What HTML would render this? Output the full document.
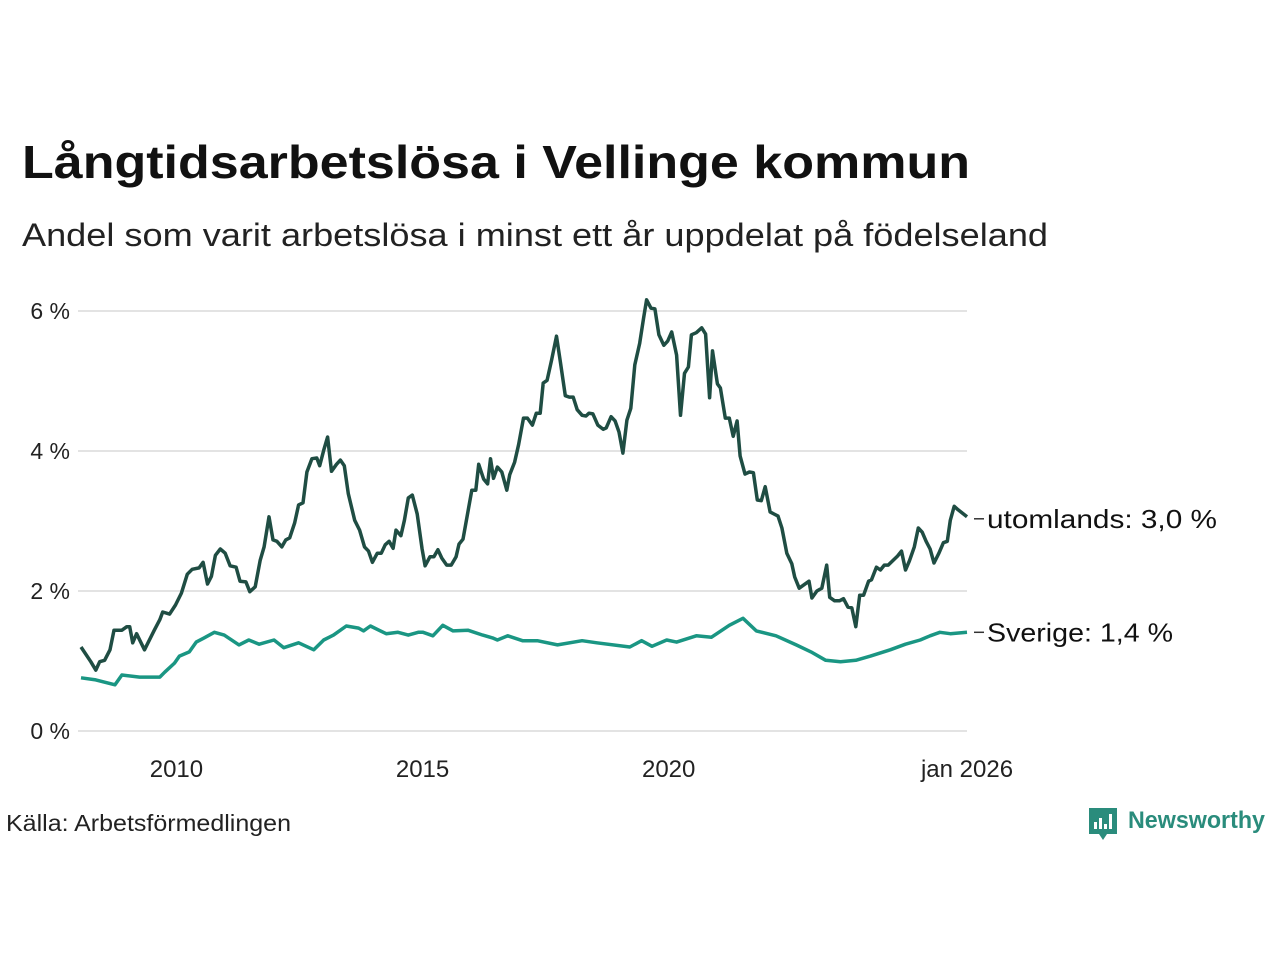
<!DOCTYPE html>
<html><head><meta charset="utf-8"><style>
html,body{margin:0;padding:0;background:#fff;}
svg text{font-family:"Liberation Sans","DejaVu Sans",sans-serif;}
</style></head><body>
<svg id="chart" width="1280" height="960" viewBox="0 0 1280 960">
<text x="22" y="178" font-size="46" font-weight="bold" fill="#111" textLength="948" lengthAdjust="spacingAndGlyphs">Långtidsarbetslösa i Vellinge kommun</text>
<text x="22" y="246" font-size="32" fill="#222" textLength="1026" lengthAdjust="spacingAndGlyphs">Andel som varit arbetslösa i minst ett år uppdelat på födelseland</text>
<g id="grid"></g><g id="yticks"></g><g id="xticks"></g><g id="lines"></g><g id="labels"></g>
<text x="6" y="831" font-size="23" fill="#222" textLength="285" lengthAdjust="spacingAndGlyphs">Källa: Arbetsförmedlingen</text>
<g>
<path d="M1089 808 h28 v26 h-10 l-4 6 l-4 -6 h-10 z" fill="#2a8c7c"/>
<rect x="1094" y="822" width="3" height="7" fill="#fff"/><rect x="1099" y="818" width="3" height="11" fill="#fff"/><rect x="1104" y="824" width="3" height="5" fill="#fff"/><rect x="1109" y="814" width="3" height="15" fill="#fff"/>
<text x="1128" y="828" font-size="24" font-weight="bold" fill="#2a8c7c" textLength="137" lengthAdjust="spacingAndGlyphs">Newsworthy</text>
</g>
</svg>
<script>
const yTicks=[0,2,4,6];
const yTickLabels=["0 %","2 %","4 %","6 %"];
const xTicks=[2010,2015,2020,2026];
const xTickLabels=["2010","2015","2020","jan 2026"];
const seriesNames=["utomlands","Sverige"];
const endLabels=["utomlands: 3,0 %","Sverige: 1,4 %"];
const utomlandsDates=[2008.00,2008.20,2008.30,2008.38,2008.48,2008.59,2008.67,2008.83,2008.93,2008.99,2009.05,2009.13,2009.29,2009.49,2009.60,2009.66,2009.80,2009.92,2010.04,2010.16,2010.26,2010.40,2010.48,2010.57,2010.65,2010.73,2010.83,2010.93,2011.03,2011.15,2011.23,2011.35,2011.43,2011.54,2011.64,2011.72,2011.82,2011.90,2011.98,2012.08,2012.16,2012.24,2012.34,2012.42,2012.51,2012.59,2012.69,2012.79,2012.85,2012.93,2013.01,2013.09,2013.19,2013.27,2013.35,2013.43,2013.56,2013.66,2013.76,2013.84,2013.92,2014.02,2014.10,2014.18,2014.26,2014.34,2014.40,2014.50,2014.57,2014.65,2014.73,2014.83,2014.93,2014.99,2015.09,2015.17,2015.25,2015.33,2015.43,2015.52,2015.62,2015.68,2015.76,2015.86,2015.94,2016.02,2016.08,2016.18,2016.26,2016.32,2016.38,2016.46,2016.55,2016.65,2016.71,2016.81,2016.89,2016.99,2017.07,2017.17,2017.25,2017.33,2017.39,2017.47,2017.56,2017.66,2017.74,2017.84,2017.92,2018.00,2018.08,2018.18,2018.26,2018.32,2018.40,2018.50,2018.61,2018.67,2018.77,2018.85,2018.93,2019.01,2019.09,2019.17,2019.25,2019.35,2019.43,2019.49,2019.58,2019.66,2019.74,2019.84,2019.92,2020.00,2020.10,2020.18,2020.26,2020.34,2020.40,2020.50,2020.61,2020.69,2020.77,2020.83,2020.93,2020.99,2021.09,2021.17,2021.25,2021.33,2021.39,2021.49,2021.58,2021.66,2021.74,2021.82,2021.90,2022.00,2022.08,2022.16,2022.24,2022.34,2022.44,2022.50,2022.59,2022.69,2022.79,2022.85,2022.95,2023.05,2023.15,2023.21,2023.31,2023.41,2023.49,2023.58,2023.66,2023.74,2023.82,2023.90,2024.00,2024.06,2024.16,2024.24,2024.32,2024.40,2024.50,2024.59,2024.67,2024.75,2024.83,2024.93,2025.01,2025.09,2025.17,2025.25,2025.33,2025.43,2025.52,2025.60,2025.66,2025.74,2025.82,2026.00];
const utomlands=[1.20,0.99,0.87,0.99,1.01,1.16,1.44,1.44,1.49,1.49,1.26,1.39,1.16,1.44,1.59,1.70,1.67,1.80,1.97,2.24,2.31,2.33,2.41,2.10,2.21,2.51,2.60,2.54,2.36,2.34,2.14,2.13,1.99,2.06,2.44,2.63,3.06,2.73,2.71,2.63,2.73,2.76,2.97,3.23,3.26,3.70,3.89,3.90,3.79,4.01,4.20,3.71,3.81,3.87,3.79,3.39,3.01,2.87,2.63,2.57,2.41,2.54,2.54,2.66,2.71,2.61,2.87,2.79,3.01,3.33,3.37,3.10,2.60,2.36,2.49,2.49,2.59,2.47,2.37,2.37,2.49,2.67,2.74,3.13,3.44,3.44,3.81,3.60,3.53,3.89,3.61,3.77,3.70,3.44,3.66,3.84,4.09,4.47,4.47,4.37,4.54,4.54,4.97,5.01,5.30,5.64,5.27,4.79,4.77,4.77,4.59,4.51,4.50,4.54,4.53,4.37,4.31,4.33,4.49,4.43,4.27,3.97,4.44,4.61,5.23,5.54,5.90,6.16,6.04,6.03,5.66,5.51,5.57,5.70,5.37,4.51,5.11,5.20,5.66,5.69,5.76,5.67,4.76,5.43,4.96,4.90,4.47,4.47,4.21,4.43,3.93,3.67,3.70,3.69,3.30,3.29,3.49,3.13,3.10,3.07,2.90,2.54,2.39,2.20,2.04,2.09,2.14,1.90,2.00,2.04,2.37,1.91,1.86,1.86,1.89,1.77,1.76,1.49,1.94,1.94,2.14,2.16,2.34,2.30,2.37,2.37,2.44,2.50,2.57,2.30,2.43,2.63,2.90,2.84,2.71,2.60,2.40,2.54,2.69,2.71,3.01,3.21,3.16,3.06];
const sverigeDates=[2008.0,2008.3,2008.69,2008.83,2009.19,2009.6,2009.7,2009.9,2010.0,2010.2,2010.34,2010.5,2010.71,2010.91,2011.21,2011.41,2011.62,2011.92,2012.12,2012.42,2012.73,2012.93,2013.13,2013.39,2013.64,2013.74,2013.88,2014.2,2014.44,2014.65,2014.85,2014.95,2015.15,2015.35,2015.56,2015.86,2016.16,2016.36,2016.46,2016.67,2016.97,2017.27,2017.68,2018.18,2018.48,2019.15,2019.39,2019.6,2019.9,2020.1,2020.5,2020.81,2021.17,2021.45,2021.72,2022.12,2022.53,2022.83,2023.13,2023.43,2023.74,2024.04,2024.44,2024.75,2025.05,2025.25,2025.45,2025.66,2026.0];
const sverige=[0.76,0.73,0.66,0.80,0.77,0.77,0.84,0.97,1.07,1.13,1.27,1.33,1.41,1.37,1.23,1.30,1.24,1.30,1.19,1.26,1.16,1.30,1.37,1.50,1.47,1.43,1.50,1.39,1.41,1.37,1.41,1.41,1.36,1.51,1.43,1.44,1.37,1.33,1.30,1.36,1.29,1.29,1.23,1.29,1.26,1.20,1.29,1.21,1.30,1.27,1.36,1.34,1.51,1.61,1.43,1.36,1.23,1.13,1.01,0.99,1.01,1.07,1.16,1.24,1.30,1.36,1.41,1.39,1.41];

const X0=78,X1=967,Y0=731,Y6=311;
const startYear=2008,endYear=2026,PX0=81,PX1=967;
function xs(yr){return PX0+(yr-startYear)/(endYear-startYear)*(PX1-PX0);}
function ys(v){return Y0-(v/6)*(Y0-Y6);}
const NS="http://www.w3.org/2000/svg";
function mk(tag,parent,attrs){const e=document.createElementNS(NS,tag);for(const k in attrs)e.setAttribute(k,attrs[k]);document.getElementById(parent).appendChild(e);return e;}

yTicks.forEach((t,i)=>{
  const g=mk('line','grid',{x1:X0,x2:X1,y1:ys(t),y2:ys(t),stroke:'#e3e3e3','stroke-width':2});
  
  
  const tx=mk('text','yticks',{x:70,y:ys(t)+8,'font-size':23,fill:'#222','text-anchor':'end'});
  tx.textContent=yTickLabels[i];
  
  
});
xTicks.forEach((t,i)=>{
  const tx=mk('text','xticks',{x:xs(t)-(i<3?3:0),y:777,'font-size':24,fill:'#222','text-anchor':'middle'});
  tx.textContent=xTickLabels[i];
  
  
});
const dPts=utomlands.map((v,i)=>xs(utomlandsDates[i]).toFixed(1)+','+ys(v).toFixed(1)).join(' ');
const l1=mk('polyline','lines',{points:dPts,fill:'none',stroke:'#1f4d43','stroke-width':3.5,'stroke-linejoin':'round'});


const sPts=sverige.map((v,i)=>xs(sverigeDates[i]).toFixed(1)+','+ys(v).toFixed(1)).join(' ');
const l2=mk('polyline','lines',{points:sPts,fill:'none',stroke:'#1a9683','stroke-width':3.5,'stroke-linejoin':'round'});


const lastVals=[utomlands[utomlands.length-1],sverige[sverige.length-1]];
const labelWidths=[230,186];
lastVals.forEach((v,i)=>{
  const y=ys(v)+(i===0?2:0);
  const c=mk('line','labels',{x1:974,x2:984,y1:y,y2:y,stroke:'#333','stroke-width':1.5});
  
  
  const t=mk('text','labels',{x:987,y:y+9,'font-size':26,fill:'#111',textLength:labelWidths[i],lengthAdjust:'spacingAndGlyphs'});
  t.textContent=endLabels[i];
  
  
});
</script>
</body></html>
